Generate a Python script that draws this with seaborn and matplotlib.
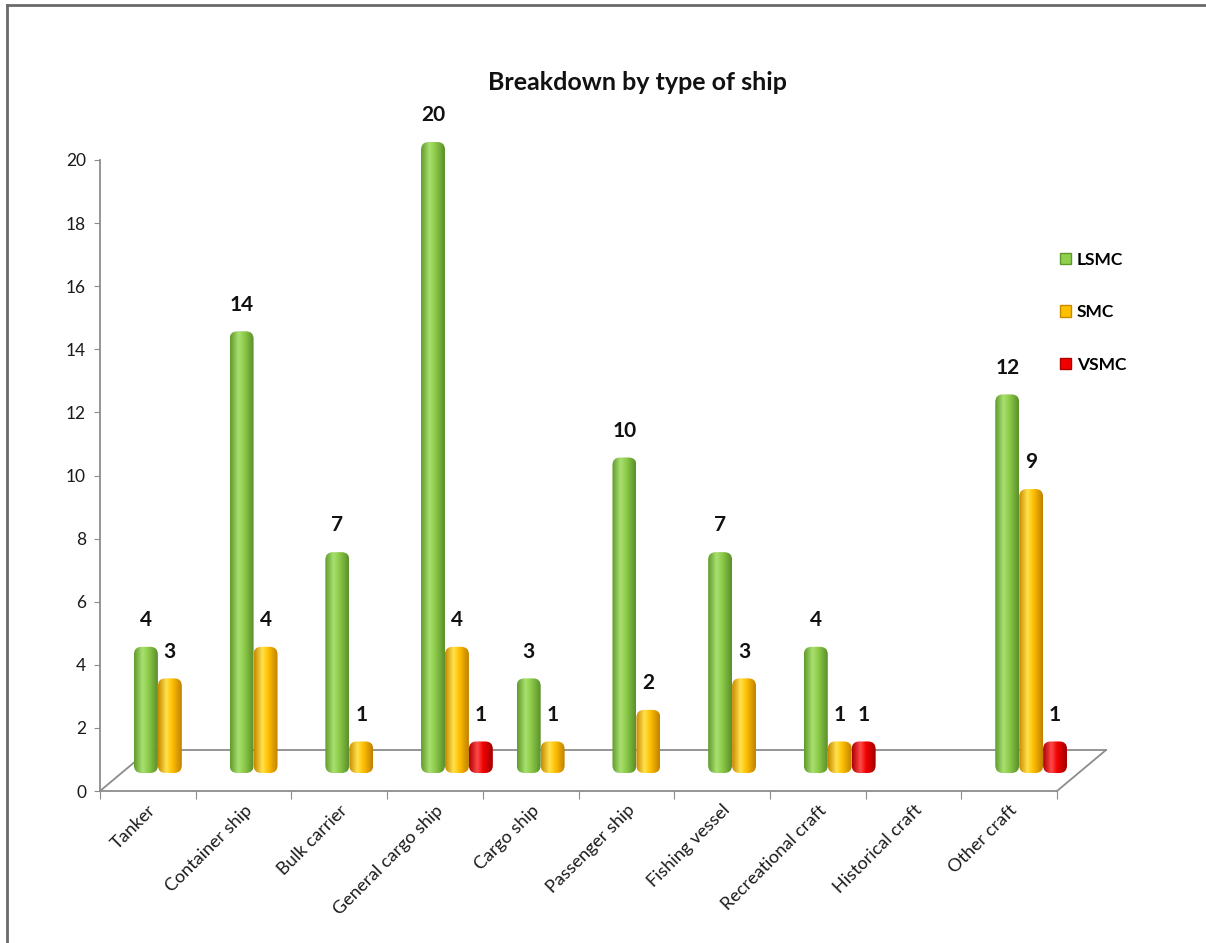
import matplotlib.pyplot as plt
from matplotlib.colors import LinearSegmentedColormap
from matplotlib.patches import FancyBboxPatch, Patch
from matplotlib.lines import Line2D
import numpy as np
import pandas as pd
import seaborn as sns

# data
ship_types = ['Tanker', 'Container ship', 'Bulk carrier', 'General cargo ship', 'Cargo ship',
              'Passenger ship', 'Fishing vessel', 'Recreational craft', 'Historical craft', 'Other craft']
lsmc = [4, 14, 7, 20, 3, 10, 7, 4, None, 12]
smc = [3, 4, 1, 4, 1, 2, 3, 1, None, 9]
vsmc = [None, None, None, 1, None, None, None, 1, None, 1]
series = ['LSMC', 'SMC', 'VSMC']
colors = ['#8fd14f', '#ffc000', '#f20000']
shades = [['#5f9a2c', '#a9e070', '#8ccb4a', '#5b8f2a'],
          ['#c98a00', '#ffe14d', '#ffc000', '#c08000'],
          ['#b00000', '#ff4a4a', '#f00000', '#a00000']]

df = pd.DataFrame({'type': ship_types * 3,
                   'series': np.repeat(series, len(ship_types)),
                   'value': lsmc + smc + vsmc}).dropna()

plt.rcParams['font.family'] = ['Lato', 'DejaVu Sans']

W, H = 1206, 943
fig = plt.figure(figsize=(W / 100, H / 100), dpi=100)

# front plane axes (axis lines, ticks, floor)
x0, x1, y0, y1 = 100, 1057, 791, 160
ax = fig.add_axes([x0 / W, 1 - y0 / H, (x1 - x0) / W, (y0 - y1) / H])
ax.set_xlim(-0.5, 9.5)
ax.set_ylim(0, 20)
ax.patch.set_alpha(0)
for s in ['top', 'right']:
    ax.spines[s].set_visible(False)
for s in ['left', 'bottom']:
    ax.spines[s].set_color('#8c8c8c')
    ax.spines[s].set_linewidth(1.3)
ax.set_yticks(range(0, 21, 2))
ax.tick_params(axis='y', length=4, color='#8c8c8c', labelsize=12.5, labelcolor='#1a1a1a', pad=6)
ax.set_xticks(np.arange(-0.5, 10, 1))
ax.set_xticklabels([])
ax.tick_params(axis='x', which='major', length=6, color='#8c8c8c')
ax.set_xticks(range(10), minor=True)
ax.set_xticklabels(ship_types, minor=True, rotation=45, ha='right', rotation_mode='anchor',
                   fontsize=13, color='#1a1a1a')
ax.tick_params(axis='x', which='minor', length=0, pad=8)

# floor depth lines
px_x = (x1 - x0) / 10
px_y = (y0 - y1) / 20
ddx, ddy = 49 / px_x, 41 / px_y
fl = dict(color='#8c8c8c', lw=1.3, clip_on=False, zorder=1)
ax.plot([-0.5 + ddx, 9.5 + ddx], [ddy, ddy], **fl)
ax.plot([-0.5, -0.5 + ddx], [0, ddy], **fl)
ax.plot([9.5, 9.5 + ddx], [0, ddy], **fl)

# bars axes, shifted into the floor depth
bx = fig.add_axes([(x0 + 22) / W, 1 - (y0 - 18) / H, (x1 - x0) / W, (y0 - y1) / H])
sns.barplot(data=df, x='type', y='value', hue='series', order=ship_types, hue_order=series,
            palette=colors, width=0.75, dodge=True, legend=False, ax=bx)
bx.set_xlim(-0.5, 9.5)
bx.set_ylim(0, 20)
bx.axis('off')

aspect = px_x / px_y
grad = np.linspace(0, 1, 64).reshape(1, -1)
for cont, sh in zip(bx.containers, shades):
    cmap = LinearSegmentedColormap.from_list('c', list(zip([0, 0.35, 0.6, 1], sh)))
    for bar in cont:
        x, y = bar.get_x(), bar.get_y()
        w, h = bar.get_width(), bar.get_height()
        if not np.isfinite(h) or h <= 0:
            continue
        bar.set_alpha(0)
        cyl = FancyBboxPatch((x, y), w, h, boxstyle=f'round,pad=0,rounding_size={w * 0.32}',
                             mutation_aspect=aspect, facecolor='none', edgecolor='none',
                             transform=bx.transData)
        bx.add_patch(cyl)
        im = bx.imshow(grad, extent=[x, x + w, y, y + h * 1.02], aspect='auto', cmap=cmap,
                       interpolation='bilinear', zorder=3)
        im.set_clip_path(cyl)
    bx.bar_label(cont, fmt='%g', padding=12, fontsize=15, fontweight='bold', color='#111111')
bx.set_xlim(-0.5, 9.5)
bx.set_ylim(0, 20)

# legend
handles = [Patch(facecolor=c, edgecolor=sh[0], label=s) for c, sh, s in zip(colors, shades, series)]
fig.legend(handles=handles, loc='upper left', bbox_to_anchor=(1044 / W, 1 - 236 / H), frameon=False,
           handlelength=0.65, handleheight=0.65, handletextpad=0.35, labelspacing=2.1,
           prop={'weight': 'bold', 'size': 12.5})

fig.text(637 / W, 1 - 83 / H, 'Breakdown by type of ship', ha='center', va='center',
         fontsize=18, fontweight='bold', color='#111111')

# outer chart border
fig.add_artist(Line2D([7 / W, 1], [1 - 5 / H, 1 - 5 / H], color='#6a6a6a', lw=2, transform=fig.transFigure))
fig.add_artist(Line2D([7 / W, 7 / W], [1 - 5 / H, 0], color='#6a6a6a', lw=2, transform=fig.transFigure))

fig.savefig('out.png', dpi=100)
